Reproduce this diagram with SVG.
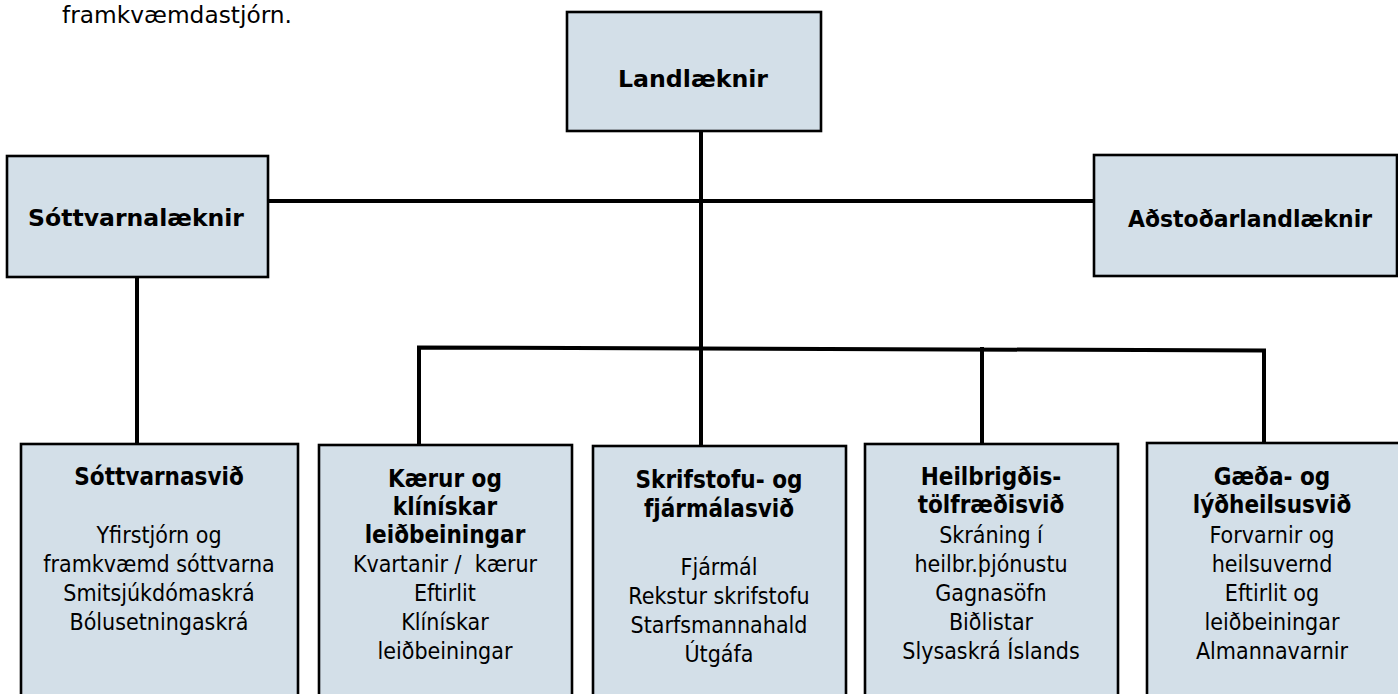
<svg xmlns="http://www.w3.org/2000/svg" width="1398" height="694" viewBox="0 0 1398 694">
<style>
.box{fill:#d3dfe8;stroke:#000;stroke-width:2.6}
.ln{stroke:#000;stroke-width:4;fill:none;stroke-linecap:square}
text{font-family:"DejaVu Sans Condensed","DejaVu Sans",sans-serif;font-size:23px;fill:#000;text-anchor:middle}
.b{font-weight:bold;font-size:24px}
.t{font-family:"DejaVu Sans",sans-serif;font-weight:bold;font-size:23px}
.top{font-family:"DejaVu Sans",sans-serif;font-size:23px;text-anchor:start}
</style>
<rect width="1398" height="694" fill="#fff"/>
<text class="top" x="62" y="23" textLength="230" lengthAdjust="spacingAndGlyphs">framkvæmdastjórn.</text>
<g id="connectors">
<line class="ln" x1="701" y1="131" x2="701" y2="443"/>
<line class="ln" x1="268" y1="201" x2="1094" y2="201"/>
<line class="ln" x1="137" y1="277" x2="137" y2="443"/>
<polyline class="ln" points="419,444 419,347.5 1264,350.5 1264,443"/>
<line class="ln" x1="982" y1="349" x2="982" y2="443"/>
</g>
<g id="landlaeknir">
<rect class="box" x="567" y="12" width="254" height="119"/>
<text class="t" x="693" y="87" textLength="150" lengthAdjust="spacingAndGlyphs">Landlæknir</text>
</g>
<g id="sottvarnalaeknir">
<rect class="box" x="7" y="156" width="261" height="121"/>
<text class="t" x="136" y="226" textLength="216" lengthAdjust="spacingAndGlyphs">Sóttvarnalæknir</text>
</g>
<g id="adstodarlandlaeknir">
<rect class="box" x="1094" y="155" width="303" height="121"/>
<text class="t" x="1250" y="227" textLength="244" lengthAdjust="spacingAndGlyphs">Aðstoðarlandlæknir</text>
</g>
<g id="sottvarnasvid">
<rect class="box" x="21" y="444" width="277" height="260"/>
<text class="b" x="159" y="485">Sóttvarnasvið</text>
<text x="159" y="543">Yfirstjórn og</text>
<text x="159" y="572">framkvæmd sóttvarna</text>
<text x="159" y="601">Smitsjúkdómaskrá</text>
<text x="159" y="630">Bólusetningaskrá</text>
</g>
<g id="kaerur">
<rect class="box" x="319" y="445" width="253" height="260"/>
<text class="b" x="445" y="487">Kærur og</text>
<text class="b" x="445" y="515">klínískar</text>
<text class="b" x="445" y="543">leiðbeiningar</text>
<text x="445" y="572" style="white-space:pre">Kvartanir /  kærur</text>
<text x="445" y="601">Eftirlit</text>
<text x="445" y="630">Klínískar</text>
<text x="445" y="659">leiðbeiningar</text>
</g>
<g id="skrifstofa">
<rect class="box" x="593" y="446" width="253" height="260"/>
<text class="b" x="719" y="488">Skrifstofu- og</text>
<text class="b" x="719" y="517">fjármálasvið</text>
<text x="719" y="575">Fjármál</text>
<text x="719" y="604">Rekstur skrifstofu</text>
<text x="719" y="633">Starfsmannahald</text>
<text x="719" y="662">Útgáfa</text>
</g>
<g id="heilbrigdis">
<rect class="box" x="865" y="444" width="253" height="260"/>
<text class="b" x="991" y="485">Heilbrigðis-</text>
<text class="b" x="991" y="513">tölfræðisvið</text>
<text x="991" y="543">Skráning í</text>
<text x="991" y="572">heilbr.þjónustu</text>
<text x="991" y="601">Gagnasöfn</text>
<text x="991" y="630">Biðlistar</text>
<text x="991" y="659">Slysaskrá Íslands</text>
</g>
<g id="gaeda">
<rect class="box" x="1147" y="443" width="260" height="260"/>
<text class="b" x="1272" y="485">Gæða- og</text>
<text class="b" x="1272" y="513">lýðheilsusvið</text>
<text x="1272" y="543">Forvarnir og</text>
<text x="1272" y="572">heilsuvernd</text>
<text x="1272" y="601">Eftirlit og</text>
<text x="1272" y="630">leiðbeiningar</text>
<text x="1272" y="659">Almannavarnir</text>
</g>
</svg>
